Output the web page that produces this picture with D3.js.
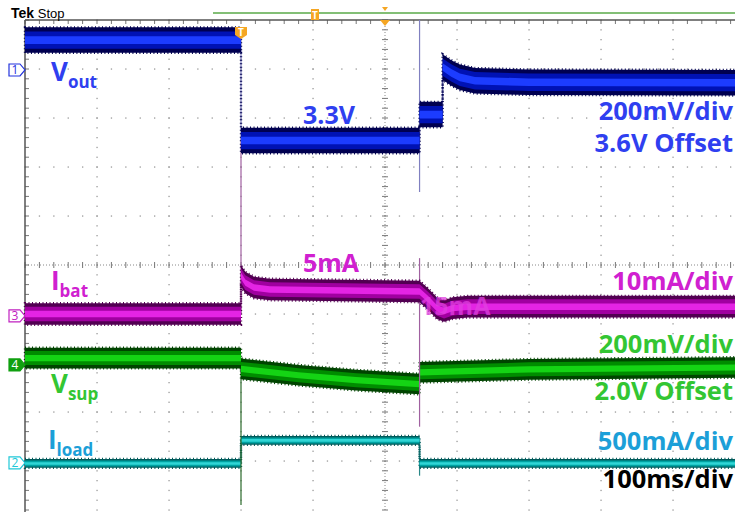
<!DOCTYPE html>
<html>
<head>
<meta charset="utf-8">
<script src="https://cdn.jsdelivr.net/npm/d3@7"></script>
<style>
  body { margin: 0; background: #fff; }
  svg { display: block; font-family: "Open Sans", sans-serif; }
</style>
</head>
<body>
<div id="chart"></div>
<script>
// trace data: [time in ms, position in divisions from screen centre]
var voutPts = [[0,4.59],[300,4.59],[300,2.54],[548,2.54],[548,3.07],[580,3.07],[580,4.04],[592,3.92],[604,3.83],[625,3.76],[700,3.73],[1000,3.72]];
var ibatPts = [[0,-1.0],[300,-1.0],[300,-0.22],[306,-0.36],[318,-0.46],[340,-0.5],[548,-0.54],[560,-0.7],[572,-0.88],[582,-0.94],[594,-0.88],[615,-0.85],[1000,-0.85]];
var vsupPts = [[0,-1.9],[300,-1.9],[300,-2.12],[380,-2.25],[460,-2.35],[548,-2.43],[548,-2.19],[700,-2.13],[1000,-2.09]];
var iloadPts = [[0,-4.05],[300,-4.05],[300,-3.58],[548,-3.58],[548,-4.05],[1000,-4.05]];

// fast transitions: [time, from div, to div]
var voutSpikes = [[548,5.0,1.49]];
var ibatSpikes = [[300,2.6,-1.0],[548,0.14,-3.3]];
var vsupSpikes = [[300,-1.9,-4.9]];
var iloadSpikes = [[548,-3.58,-4.3]];

// noise band half width, divisions
var noiseDiv = { vout: 0.26, ibat: 0.22, vsup: 0.21, iload: 0.09 };

// channel reference markers: [channel, division]
var chMarks = [["1",3.98],["3",-1.04],["4",-2.04],["2",-4.04]];

var width = 735, height = 512;
var x = d3.scaleLinear().domain([0, 1000]).range([25, 745]);
var y = d3.scaleLinear().domain([-5, 5]).range([510, 20]);

var svg = d3.select("#chart").append("svg")
    .attr("width", width)
    .attr("height", height);

// graticule dots
var grid = svg.append("g").attr("fill", "#9a9a9a");
d3.range(1, 11).forEach(function(i) {
  if (i == 5) return;
  d3.range(0, 51).forEach(function(j) {
    grid.append("rect").attr("x", x(i * 100) - 0.6).attr("y", y(-5 + j * 0.2) - 0.6)
      .attr("width", 1.3).attr("height", 1.3);
  });
});
d3.range(-4, 5).forEach(function(i) {
  if (i == 0) return;
  d3.range(0, 51).forEach(function(j) {
    grid.append("rect").attr("x", x(j * 20) - 0.6).attr("y", y(i) - 0.6)
      .attr("width", 1.3).attr("height", 1.3);
  });
});

// centre lines with ticks
svg.append("line").attr("x1", x(500)).attr("x2", x(500)).attr("y1", y(5)).attr("y2", y(-5))
  .attr("stroke", "#888").attr("stroke-dasharray", "1 2");
svg.append("line").attr("x1", x(0)).attr("x2", x(1000)).attr("y1", y(0)).attr("y2", y(0))
  .attr("stroke", "#888").attr("stroke-dasharray", "1 2");
d3.range(0, 51).forEach(function(j) {
  svg.append("line").attr("x1", x(500) - 3).attr("x2", x(500) + 3)
    .attr("y1", y(-5 + j * 0.2)).attr("y2", y(-5 + j * 0.2)).attr("stroke", "#777");
  svg.append("line").attr("y1", y(0) - 3).attr("y2", y(0) + 3)
    .attr("x1", x(j * 20)).attr("x2", x(j * 20)).attr("stroke", "#777");
  // border ticks
  svg.append("line").attr("x1", x(0)).attr("x2", x(0) + 4)
    .attr("y1", y(-5 + j * 0.2)).attr("y2", y(-5 + j * 0.2)).attr("stroke", "#777");
  svg.append("line").attr("y1", y(5)).attr("y2", y(5) + 4)
    .attr("x1", x(j * 20)).attr("x2", x(j * 20)).attr("stroke", "#777");
});

// border
svg.append("line").attr("x1", x(0)).attr("x2", x(0)).attr("y1", y(5)).attr("y2", height)
  .attr("stroke", "#555").attr("stroke-width", 1.5);
svg.append("line").attr("x1", x(0)).attr("x2", width).attr("y1", y(5)).attr("y2", y(5))
  .attr("stroke", "#555").attr("stroke-width", 1.5);

// draw one trace
function trace(pts, spikes, hw, c) {
  var g = svg.append("g");
  spikes.forEach(function(s) {
    g.append("line").attr("x1", x(s[0])).attr("x2", x(s[0]))
      .attr("y1", y(Math.min(s[1], 5))).attr("y2", y(Math.max(s[2], -5)))
      .attr("stroke", c.spike).attr("stroke-width", 1.2);
  });
  g.append("path").datum(pts)
    .attr("d", d3.line().x(function(d) { return x(d[0]); }).y(function(d) { return y(d[1]); }))
    .attr("fill", "none").attr("stroke", c.spike).attr("stroke-width", 1.2);
  [[1, c.dark], [0.68, c.mid], [0.3, c.bright]].forEach(function(l) {
    var area = d3.area()
      .x(function(d) { return x(d[0]); })
      .y0(function(d) { return y(d[1] - hw * l[0]); })
      .y1(function(d) { return y(d[1] + hw * l[0]); });
    var p = g.append("path").datum(pts).attr("d", area).attr("fill", l[1]);
    if (l[0] == 1) {
      p.attr("stroke", c.dark).attr("stroke-width", 2.4).attr("stroke-dasharray", "1 2.5");
    }
  });
}

trace(iloadPts, iloadSpikes, noiseDiv.iload, { dark: "#005a5a", mid: "#00a2a2", bright: "#30d6d6", spike: "#2a8888" });
trace(vsupPts, vsupSpikes, noiseDiv.vsup, { dark: "#004400", mid: "#008c00", bright: "#14d414", spike: "#2a6a2a" });
trace(ibatPts, ibatSpikes, noiseDiv.ibat, { dark: "#520052", mid: "#a000a0", bright: "#e424e4", spike: "#a060a0" });
trace(voutPts, voutSpikes, noiseDiv.vout, { dark: "#000050", mid: "#0012b4", bright: "#1c3cff", spike: "#8080c0" });

// channel markers
var chColor = { "1": "#2233dd", "3": "#c020c0", "4": "#10a010", "2": "#20c8d8" };
chMarks.forEach(function(m) {
  var cy = y(m[1]), c = chColor[m[0]], filled = m[0] == "4";
  svg.append("path")
    .attr("d", "M9," + (cy - 6) + "H20L25," + cy + "L20," + (cy + 6) + "H9Z")
    .attr("fill", filled ? c : "#fff").attr("stroke", c).attr("stroke-width", 1.2);
  svg.append("text").attr("x", 15).attr("y", cy + 4.5).attr("text-anchor", "middle")
    .attr("font-size", 12).attr("fill", filled ? "#fff" : c).text(m[0]);
});

// top status bar
svg.append("text").attr("x", 11).attr("y", 18).attr("font-size", 13)
  .attr("font-family", "Liberation Sans Narrow, Liberation Sans, sans-serif")
  .html('<tspan font-weight="bold" font-size="14">Tek</tspan> Stop');
svg.append("line").attr("x1", 213).attr("x2", width).attr("y1", 13).attr("y2", 13)
  .attr("stroke", "#5aaa48").attr("stroke-width", 1.5);
svg.append("rect").attr("x", 311).attr("y", 9).attr("width", 8).attr("height", 11)
  .attr("fill", "#f5a623");
svg.append("text").attr("x", 315).attr("y", 18.5).attr("text-anchor", "middle")
  .attr("font-size", 10).attr("font-weight", "bold").attr("fill", "#fff").text("T");
svg.append("path").attr("d", "M" + (x(500) - 3) + ",7h6l-3,4z").attr("fill", "#f5a623");
svg.append("path").attr("d", "M" + (x(500) - 5) + ",20h10l-5,6z").attr("fill", "#f5a623");
// trigger marker
svg.append("path").attr("d", "M235,27h12v8l-6,4l-6,-4z").attr("fill", "#f5a623");
svg.append("text").attr("x", 241).attr("y", 36).attr("text-anchor", "middle")
  .attr("font-size", 10).attr("font-weight", "bold").attr("fill", "#fff").text("T");

// annotations
var blue = "#2f3ff0", magenta = "#d020d0", green = "#33c633", cyan = "#1c9fd8";
function label(tx, ty, txt, col, size, anchor) {
  return svg.append("text").attr("x", tx).attr("y", ty).attr("fill", col)
    .attr("font-size", size).attr("font-weight", "bold")
    .attr("text-anchor", anchor || "start").text(txt);
}
function sub(tx, ty, main, s, col) {
  var t = svg.append("text").attr("x", tx).attr("y", ty).attr("fill", col).attr("font-weight", "bold");
  t.append("tspan").attr("font-size", 26).text(main);
  t.append("tspan").attr("font-size", 17).attr("dy", 7).text(s);
}
sub(51, 81, "V", "out", blue);
sub(51, 290, "I", "bat", magenta);
sub(51, 393, "V", "sup", green);
sub(48, 449, "I", "load", cyan);

label(303, 124, "3.3V", blue, 25);
label(303, 272, "5mA", magenta, 25);
label(420, 315, "15mA", "#e040e0", 25).attr("opacity", 0.75);
label(733, 120, "200mV/div", blue, 25.5, "end");
label(733, 152, "3.6V Offset", blue, 25.5, "end");
label(733, 290, "10mA/div", magenta, 25.5, "end");
label(733, 353, "200mV/div", green, 25.5, "end");
label(733, 400, "2.0V Offset", green, 25.5, "end");
label(733, 450, "500mA/div", cyan, 25.5, "end");
label(733, 488, "100ms/div", "#000", 25.5, "end");
</script>
</body>
</html>
